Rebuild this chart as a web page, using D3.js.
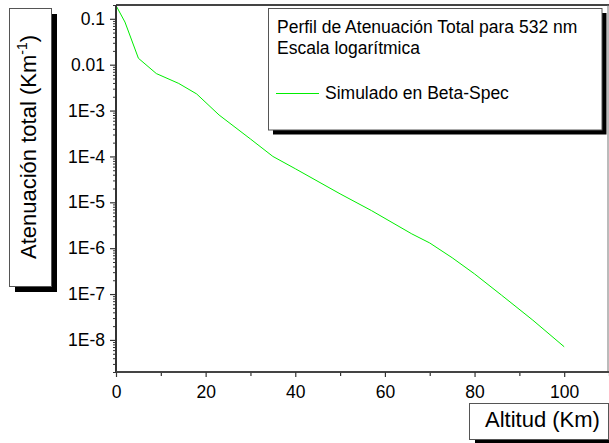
<!DOCTYPE html>
<html>
<head>
<meta charset="utf-8">
<script src="https://cdn.jsdelivr.net/npm/d3@7"></script>
<style>
  html, body { margin: 0; padding: 0; background: #fff; }
  svg { display: block; font-family: "Liberation Sans", Arial, sans-serif; }
</style>
</head>
<body>
<svg id="chart" width="609" height="443"></svg>
<script>
// Total attenuation profile at 532 nm (simulated)
const altitudes = [0, 2, 5, 9, 14, 18, 23, 30, 35, 40, 50, 57, 66, 70, 75, 80, 86, 93, 100];
const attenuation = [0.195, 0.085, 0.0138, 0.0064, 0.0039, 0.0023, 8.0e-4, 2.4e-4, 1.0e-4, 5.4e-5,
  1.53e-5, 6.6e-6, 2.05e-6, 1.3e-6, 6.2e-7, 2.75e-7, 9.5e-8, 2.7e-8, 7.1e-9];

const yTickValues = [1e-1, 1e-2, 1e-3, 1e-4, 1e-5, 1e-6, 1e-7, 1e-8];
const yTickLabels = ["0.1", "0.01", "1E-3", "1E-4", "1E-5", "1E-6", "1E-7", "1E-8"];
const xTickValues = [0, 20, 40, 60, 80, 100];
const xMinorValues = [10, 30, 50, 70, 90, 110];

const legendTitle = ["Perfil de Atenuación Total para 532 nm", "Escala logarítmica"];
const seriesName = "Simulado en Beta-Spec";

const svg = d3.select("#chart");
const plot = { left: 116, right: 608, top: 5, bottom: 372 };
const fontFamily = "'Liberation Sans', Arial, sans-serif";

const x = d3.scaleLinear().domain([0, 110]).range([plot.left, plot.right + 1]);
const y = d3.scaleLog().domain([2e-9, 0.2]).range([plot.bottom, plot.top]);

// minor log ticks: 2..9 x 10^k inside the domain
const yMinor = [];
for (let k = -9; k <= -1; k++) {
  for (let m = 2; m <= 9; m++) {
    const v = m * Math.pow(10, k);
    if (v >= 2e-9 && v <= 0.2) yMinor.push(v);
  }
}

// frame (top and right)
svg.append("line").attr("x1", plot.left).attr("x2", 609).attr("y1", plot.top).attr("y2", plot.top)
  .attr("stroke", "#444").attr("stroke-width", 2);
svg.append("line").attr("x1", plot.right).attr("x2", plot.right).attr("y1", plot.top).attr("y2", plot.bottom)
  .attr("stroke", "#777").attr("stroke-width", 1);

// curve
const line = d3.line().x((d, i) => x(altitudes[i])).y(d => y(d));
svg.append("path").datum(attenuation)
  .attr("d", line).attr("fill", "none").attr("stroke", "#00ee00").attr("stroke-width", 1);

// y axis
const yMinorAxis = d3.axisLeft(y).tickValues(yMinor).tickSize(3).tickFormat("");
svg.append("g").attr("transform", `translate(${plot.left},0)`).call(yMinorAxis)
  .call(g => g.select(".domain").remove())
  .selectAll("line").attr("stroke", "#333");
const yAxis = d3.axisLeft(y).tickValues(yTickValues).tickSize(6).tickPadding(5)
  .tickFormat((d, i) => yTickLabels[i]);
const gy = svg.append("g").attr("transform", `translate(${plot.left},0)`).call(yAxis);
gy.select(".domain").attr("stroke", "#333").attr("stroke-width", 2).attr("d", `M0,${plot.top}V${plot.bottom}`);
gy.selectAll(".tick line").attr("stroke", "#333").attr("stroke-width", 1.2);
gy.selectAll("text").attr("font-size", 17.5).attr("fill", "#000").attr("font-family", fontFamily);

// x axis
const xMinorAxis = d3.axisBottom(x).tickValues(xMinorValues).tickSize(4).tickFormat("");
svg.append("g").attr("transform", `translate(0,${plot.bottom})`).call(xMinorAxis)
  .call(g => g.select(".domain").remove())
  .selectAll("line").attr("stroke", "#333").attr("stroke-width", 1.2);
const xAxis = d3.axisBottom(x).tickValues(xTickValues).tickSize(5).tickPadding(9);
const gx = svg.append("g").attr("transform", `translate(0,${plot.bottom})`).call(xAxis);
gx.select(".domain").attr("stroke", "#444").attr("stroke-width", 2).attr("d", `M${plot.left},0H609`);
gx.selectAll(".tick line").attr("stroke", "#333").attr("stroke-width", 1.2);
gx.selectAll("text").attr("font-size", 17.5).attr("fill", "#000").attr("font-family", fontFamily);

// boxed label helper with drop shadow
function shadowBox(x0, y0, w, h, off) {
  svg.append("rect").attr("x", x0 + off).attr("y", y0 + off).attr("width", w).attr("height", h).attr("fill", "#000");
  svg.append("rect").attr("x", x0).attr("y", y0).attr("width", w).attr("height", h)
    .attr("fill", "#fff").attr("stroke", "#555").attr("stroke-width", 1);
}

// y axis title
shadowBox(9.5, 8.5, 42, 278, 5.5);
const yt = svg.append("text")
  .attr("transform", "translate(36,147) rotate(-90)")
  .attr("text-anchor", "middle").attr("font-size", 22).attr("fill", "#000");
yt.append("tspan").text("Atenuación total (Km");
yt.append("tspan").attr("font-size", 14).attr("dy", -9).text("-1");
yt.append("tspan").attr("dy", 9).text(")");

// x axis title
shadowBox(469.5, 403.5, 139, 36, 5.5);
svg.append("text").attr("x", 485).attr("y", 427).attr("font-size", 22).attr("fill", "#000")
  .text("Altitud (Km)");

// legend
shadowBox(268.5, 8.5, 333.5, 121.5, 4.5);
legendTitle.forEach((t, i) => {
  svg.append("text").attr("x", 277).attr("y", 33 + i * 21).attr("font-size", 17.5).attr("fill", "#000").text(t);
});
svg.append("line").attr("x1", 276).attr("x2", 319).attr("y1", 93.5).attr("y2", 93.5)
  .attr("stroke", "#00ee00").attr("stroke-width", 1);
svg.append("text").attr("x", 325).attr("y", 98.5).attr("font-size", 17.5).attr("fill", "#000").text(seriesName);
</script>
</body>
</html>
